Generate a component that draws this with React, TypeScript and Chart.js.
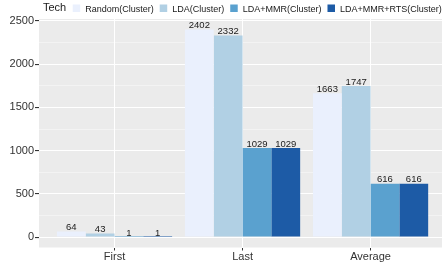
import React, { useEffect, useRef } from "react";
import { Chart, registerables } from "chart.js";

Chart.register(...registerables);

const categories = ["First", "Last", "Average"];
const seriesNames = ["Random(Cluster)", "LDA(Cluster)", "LDA+MMR(Cluster)", "LDA+MMR+RTS(Cluster)"];
const randomCluster = [64, 2402, 1663];
const ldaCluster = [43, 2332, 1747];
const ldaMmrCluster = [1, 1029, 616];
const ldaMmrRtsCluster = [1, 1029, 616];
const seriesColors = ["#EAF0FD", "#B1D0E4", "#5AA1CF", "#1D5BA6"];
const yTickValues = [0, 250, 500, 750, 1000, 1250, 1500, 1750, 2000, 2250, 2500];
const legendTitle = "Tech";

const FONT = '"Liberation Sans", Arial, Helvetica, sans-serif';

const panelPlugin = {
  id: "panelBg",
  beforeDraw(chart: any) {
    const { ctx, chartArea } = chart;
    ctx.save();
    ctx.fillStyle = "#EBEBEB";
    ctx.fillRect(chartArea.left, chartArea.top, chartArea.right - chartArea.left, chartArea.bottom - chartArea.top);
    ctx.restore();
  },
};

const labelPlugin = {
  id: "barLabels",
  afterDatasetsDraw(chart: any) {
    const { ctx } = chart;
    ctx.save();
    ctx.font = `9.5px ${FONT}`;
    ctx.fillStyle = "#1a1a1a";
    ctx.textAlign = "center";
    ctx.textBaseline = "alphabetic";
    chart.data.datasets.forEach((ds: any, di: number) => {
      const meta = chart.getDatasetMeta(di);
      meta.data.forEach((el: any, i: number) => {
        const v = ds.data[i].y;
        ctx.fillText(String(v), el.x, el.y - 1.5);
      });
    });
    ctx.restore();
  },
};

const legendPlugin = {
  id: "topLegend",
  afterDraw(chart: any) {
    const { ctx } = chart;
    ctx.save();
    ctx.textBaseline = "alphabetic";
    ctx.textAlign = "left";
    ctx.fillStyle = "#1a1a1a";
    ctx.font = `11px ${FONT}`;
    ctx.fillText(legendTitle, 43, 11);
    let x = 72.7;
    const keyW = 7.5;
    ctx.font = `9px ${FONT}`;
    seriesNames.forEach((name, i) => {
      ctx.fillStyle = seriesColors[i];
      ctx.fillRect(x, 4.5, keyW, 7.5);
      x += keyW + 5;
      ctx.fillStyle = "#1a1a1a";
      ctx.fillText(name, x, 11.5);
      x += ctx.measureText(name).width + 6;
    });
    ctx.restore();
  },
};

export default function App() {
  const ref = useRef<HTMLCanvasElement | null>(null);
  useEffect(() => {
    if (!ref.current) return;
    const seriesValues = [randomCluster, ldaCluster, ldaMmrCluster, ldaMmrRtsCluster];
    const datasets = seriesNames.map((name, si) => ({
      label: name,
      data: seriesValues[si].map((v, ci) => ({ x: ci, y: v })),
      backgroundColor: seriesColors[si],
      borderWidth: 0,
      categoryPercentage: 0.9,
      barPercentage: 1.0,
    }));
    const chart = new Chart(ref.current, {
      type: "bar",
      data: { datasets },
      plugins: [panelPlugin, labelPlugin, legendPlugin],
      options: {
        animation: false,
        responsive: false,
        devicePixelRatio: 1,
        layout: { padding: { top: 19, left: 0, right: 0, bottom: 0 } },
        plugins: { legend: { display: false }, tooltip: { enabled: false } },
        scales: {
          x: {
            type: "linear",
            offset: false,
            min: -0.59,
            max: 2.558,
            afterBuildTicks: (s: any) => {
              s.ticks = categories.map((_, i) => ({ value: i }));
            },
            afterFit: (s: any) => {
              s.height = 15.5;
            },
            grid: {
              offset: false,
              color: "#FFFFFF",
              lineWidth: 1,
              tickLength: 3,
              tickColor: "#333333",
              drawTicks: true,
            },
            border: { display: false },
            ticks: {
              font: { family: FONT, size: 11 },
              color: "#333333",
              padding: 0,
              callback: (v: any) => categories[Math.round(Number(v))] ?? "",
              maxRotation: 0,
              autoSkip: false,
            },
          },
          y: {
            type: "linear",
            min: -120.1,
            max: 2522.1,
            afterBuildTicks: (s: any) => {
              s.ticks = yTickValues.map((v) => ({ value: v }));
            },
            afterFit: (s: any) => {
              s.width = 39;
            },
            grid: {
              color: (c: any) => (c.tick && c.tick.value % 500 === 0 ? "#FFFFFF" : "rgba(255,255,255,0.75)"),
              lineWidth: (c: any) => (c.tick && c.tick.value % 500 === 0 ? 1.1 : 0.55),
              tickLength: 4,
              tickColor: (c: any) => (c.tick && c.tick.value % 500 === 0 ? "#333333" : "rgba(0,0,0,0)"),
            },
            border: { display: false },
            ticks: {
              font: { family: FONT, size: 11 },
              color: "#333333",
              padding: 1,
              autoSkip: false,
              callback: (v: any) => (Number(v) % 500 === 0 ? String(v) : ""),
            },
          },
        },
      },
    });
    return () => chart.destroy();
  }, []);
  return (
    <div style={{ position: "absolute", left: 0, top: 0, width: 442, height: 263 }}>
      <canvas ref={ref} width={442} height={263} style={{ width: 442, height: 263, display: "block" }} />
    </div>
  );
}
